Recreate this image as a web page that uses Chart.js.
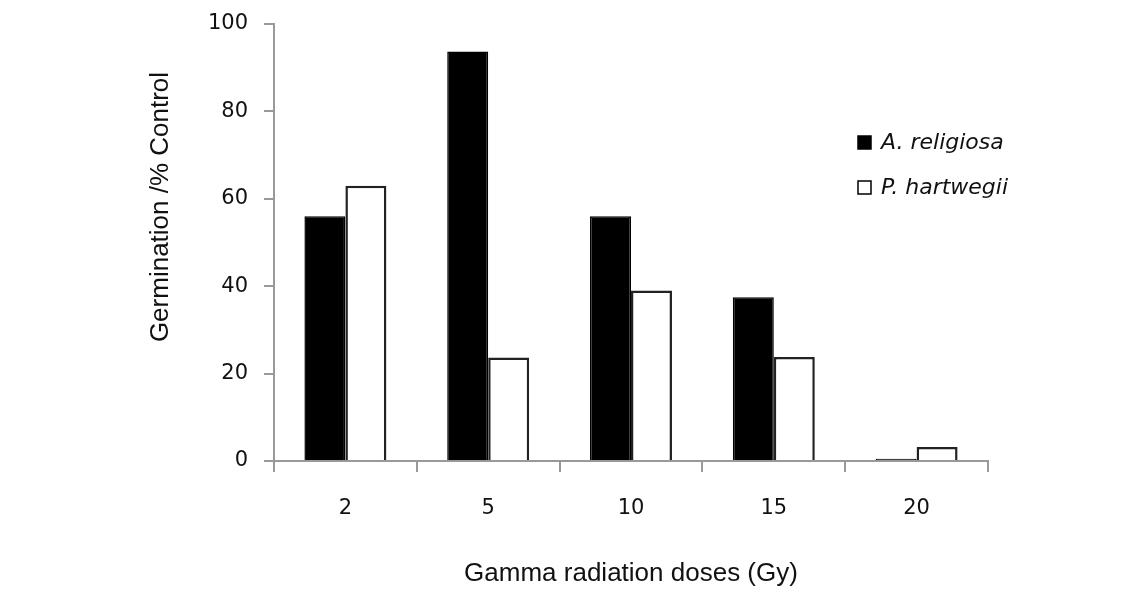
<!DOCTYPE html>
<html>
<head>
<meta charset="utf-8">
<script src="https://cdn.jsdelivr.net/npm/chart.js@4/dist/chart.umd.min.js"></script>
<style>
  html, body { margin: 0; padding: 0; background: #fff; }
  #wrap { width: 1140px; height: 589px; position: relative; }
</style>
</head>
<body>
<div id="wrap"><canvas id="grafico"></canvas></div>
<script>
// dados
const doses = ['2', '5', '10', '15', '20'];
const religiosa = [56, 93.7, 56, 37.5, 0.5];
const hartwegii = [63, 23.7, 39, 23.8, 3.2];
const ticksY = [0, 20, 40, 60, 80, 100];

const tituloX = 'Gamma radiation doses (Gy)';
const tituloY = 'Germination /% Control';

// titulo do eixo Y e legenda desenhados a mao
const extras = {
  id: 'extras',
  afterDraw(chart) {
    const ctx = chart.ctx;
    ctx.save();
    ctx.fillStyle = '#111';
    ctx.font = '26px "Liberation Sans"';
    ctx.textAlign = 'center';
    ctx.textBaseline = 'middle';
    ctx.translate(161, 207);
    ctx.rotate(-Math.PI / 2);
    ctx.fillText(tituloY, 0, 0);
    ctx.restore();

    // legenda
    const itens = chart.data.datasets;
    ctx.save();
    ctx.font = 'italic 22px "DejaVu Sans"';
    ctx.textBaseline = 'middle';
    itens.forEach((ds, i) => {
      const y = 143 + i * 45;
      ctx.fillStyle = ds.backgroundColor;
      ctx.fillRect(858, y - 7, 13, 13);
      ctx.strokeStyle = '#000';
      ctx.lineWidth = 1.5;
      ctx.strokeRect(858, y - 7, 13, 13);
      ctx.fillStyle = '#111';
      ctx.fillText(ds.label, 881, y);
    });
    ctx.restore();
  }
};

const grafico = new Chart(document.getElementById('grafico'), {
  type: 'bar',
  data: {
    labels: doses,
    datasets: [{
      label: 'A. religiosa',
      data: religiosa,
      backgroundColor: '#000',
      borderColor: '#000',
      borderWidth: 1.5
    }, {
      label: 'P. hartwegii',
      data: hartwegii,
      backgroundColor: '#fff',
      borderColor: '#222',
      borderWidth: 2.5
    }]
  },
  options: {
    responsive: true,
    maintainAspectRatio: false,
    animation: false,
    layout: { padding: { left: 149, right: 152, top: 24, bottom: 0 } },
    plugins: { legend: { display: false }, tooltip: { enabled: false } },
    datasets: { bar: { categoryPercentage: 0.574, barPercentage: 1 } },
    scales: {
      x: {
        grid: { offset: true, drawOnChartArea: false, drawTicks: true, tickLength: 11, color: '#999', lineWidth: 2 },
        border: { display: true, color: '#999', width: 2 },
        ticks: { color: '#111', font: { family: 'DejaVu Sans', size: 21 }, padding: 24, maxRotation: 0 },
        title: { display: true, text: tituloX, color: '#111', font: { family: 'Liberation Sans', size: 26 }, padding: { top: 0, bottom: 0 } },
        afterFit(scale) { scale.height = 128; scale.paddingLeft = 0; scale.paddingRight = 0; }
      },
      y: {
        min: 0,
        max: 100,
        afterBuildTicks(scale) { scale.ticks = ticksY.map(v => ({ value: v })); },
        grid: { drawOnChartArea: false, drawTicks: true, tickLength: 10, color: '#999', lineWidth: 2 },
        border: { display: true, color: '#999', width: 2 },
        ticks: { color: '#111', font: { family: 'DejaVu Sans', size: 21 }, padding: 16 },
        afterFit(scale) { scale.width = 125; scale.paddingTop = 0; scale.paddingBottom = 0; }
      }
    }
  },
  plugins: [extras]
});
</script>
</body>
</html>
